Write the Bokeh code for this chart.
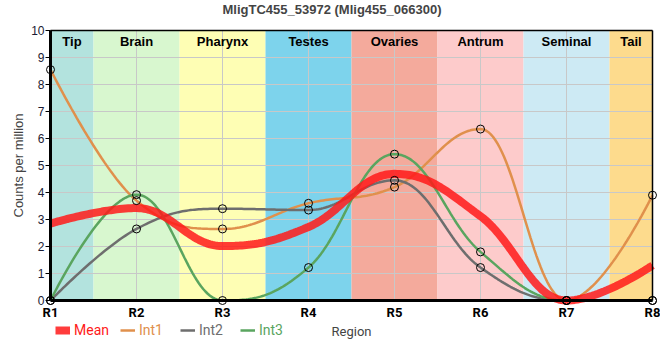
import numpy as np
from bokeh.plotting import figure
from bokeh.models import Range1d, FixedTicker, Legend, LegendItem, ColumnDataSource, LinearAxis
from bokeh.core.properties import value
from bokeh.embed import file_html
from bokeh.resources import INLINE

title = "MligTC455_53972 (Mlig455_066300)"
regions = ["R1", "R2", "R3", "R4", "R5", "R6", "R7", "R8"]
tissues = ["Tip", "Brain", "Pharynx", "Testes", "Ovaries", "Antrum", "Seminal", "Tail"]
tissue_colors = ["#b3e3de", "#d8f7cf", "#fefeb4", "#7dd3ec", "#f4aa9c", "#fdcbcb", "#cdeaf4", "#fddb8d"]
int1 = [8.55, 3.70, 2.65, 3.60, 4.20, 6.35, 0.0, 3.90]
int2 = [0.0, 2.65, 3.40, 3.35, 4.45, 1.22, 0.0, 0.0]
int3 = [0.0, 3.92, 0.0, 1.22, 5.42, 1.80, 0.0, 0.0]
mean = [(a + b + c) / 3.0 for a, b, c in zip(int1, int2, int3)]
y_ticks = list(range(0, 11))

series_names = ["Int1", "Int2", "Int3"]
series_values = [int1, int2, int3]
series_colors = ["#e0904c", "#6e6e6e", "#5aa55f"]
mean_color = "#ff1a1a"

xs = list(range(1, len(regions) + 1))


def spline(x, y, n=40):
    N = len(x)
    sm, den = 1.5, 2.5
    lc = [None] * N
    rc = [None] * N
    for i in range(1, N - 1):
        px, py = x[i], y[i]
        lx, ly = x[i - 1], y[i - 1]
        nx, ny = x[i + 1], y[i + 1]
        lcx = (sm * px + lx) / den
        lcy = (sm * py + ly) / den
        rcx = (sm * px + nx) / den
        rcy = (sm * py + ny) / den
        corr = ((rcy - lcy) * (rcx - px)) / (rcx - lcx) + py - rcy
        lcy += corr
        rcy += corr
        if lcy > ly and lcy > py:
            lcy = max(ly, py); rcy = 2 * py - lcy
        elif lcy < ly and lcy < py:
            lcy = min(ly, py); rcy = 2 * py - lcy
        if rcy > ny and rcy > py:
            rcy = max(ny, py); lcy = 2 * py - rcy
        elif rcy < ny and rcy < py:
            rcy = min(ny, py); lcy = 2 * py - rcy
        lc[i] = (lcx, lcy)
        rc[i] = (rcx, rcy)
    ox, oy = [], []
    t = np.linspace(0, 1, n)
    for i in range(N - 1):
        p0 = (x[i], y[i]); p1 = (x[i + 1], y[i + 1])
        c0 = rc[i] if rc[i] is not None else p0
        c1 = lc[i + 1] if lc[i + 1] is not None else p1
        bx = (1 - t) ** 3 * p0[0] + 3 * (1 - t) ** 2 * t * c0[0] + 3 * (1 - t) * t ** 2 * c1[0] + t ** 3 * p1[0]
        by = (1 - t) ** 3 * p0[1] + 3 * (1 - t) ** 2 * t * c0[1] + 3 * (1 - t) * t ** 2 * c1[1] + t ** 3 * p1[1]
        if i > 0:
            bx, by = bx[1:], by[1:]
        ox.extend(bx.tolist()); oy.extend(by.tolist())
    return ox, oy


# layout in pixels: the frame fills the canvas below the title; the data area
# (R1..R8, 0..10) sits inside it, with axes drawn at fixed locations
W, H = 660, 360
title_px = 18
data_left, data_right = 50, 652
data_top, data_bottom = 30, 300
ppx = (data_right - data_left) / (xs[-1] - xs[0])
ppy = (data_bottom - data_top) / (y_ticks[-1] - y_ticks[0])
x_start = xs[0] - data_left / ppx
x_end = xs[-1] + (W - data_right) / ppx
y_start = y_ticks[0] - (H - data_bottom) / ppy
y_end = y_ticks[-1] + (data_top - title_px) / ppy

p = figure(width=W, height=H, output_backend="svg", toolbar_location=None,
           x_range=Range1d(x_start, x_end), y_range=Range1d(y_start, y_end),
           min_border_left=0, min_border_right=0,
           min_border_top=title_px, min_border_bottom=0)
p.background_fill_color = "white"
p.border_fill_color = "white"
p.outline_line_color = None
p.xgrid.visible = False
p.ygrid.visible = False

# title
p.title.text = title
p.title.text_font = "Liberation Sans"
p.title.text_font_style = "bold"
p.title.text_font_size = "13px"
p.title.align = "left"
p.title.offset = 222
p.title.vertical_align = "top"
p.title.standoff = 0

# bands
lefts = [max(xs[0], v - 0.5) for v in xs]
rights = [min(xs[-1], v + 0.5) for v in xs]
band_src = ColumnDataSource(dict(left=lefts, right=rights, color=tissue_colors,
                                 name=tissues, cx=[(a + b) / 2 for a, b in zip(lefts, rights)],
                                 top=[y_ticks[-1]] * len(xs), bottom=[0] * len(xs)))
p.quad(left="left", right="right", top="top", bottom="bottom", fill_color="color",
       line_color=None, source=band_src, level="image")

# grid lines limited to the data area
p.segment(x0=xs, y0=[0] * len(xs), x1=xs, y1=[y_ticks[-1]] * len(xs),
          line_color="#c8c8c8", line_width=1, level="underlay")
p.segment(x0=[xs[0]] * len(y_ticks), y0=y_ticks, x1=[xs[-1]] * len(y_ticks), y1=y_ticks,
          line_color="#c8c8c8", line_width=1, level="underlay")

p.text(x="cx", y="top", text="name", source=band_src, text_align="center", text_baseline="top",
       y_offset=3, text_font=value("Liberation Sans"), text_font_style="bold",
       text_font_size="13px", text_color="black")

# lines
line_renderers = {}
for name, vals, col in zip(series_names, series_values, series_colors):
    sx, sy = spline(xs, vals)
    line_renderers[name] = p.line(sx, sy, line_color=col, line_width=2.5)

mx, my = spline(xs, mean)
mean_r = p.line(mx, my, line_color=mean_color, line_width=8, line_alpha=0.85)

for vals in series_values:
    p.scatter(xs, vals, size=8, fill_alpha=0, line_color="black", line_width=1)

# axes
p.xaxis.fixed_location = y_ticks[0]
p.xaxis.bounds = (xs[0], xs[-1])
p.xaxis.ticker = FixedTicker(ticks=xs)
p.xaxis.major_label_overrides = {x: r for x, r in zip(xs, regions)}
p.xaxis.axis_label = "Region"
p.xaxis.axis_label_text_font = "Roboto"
p.xaxis.axis_label_text_font_style = "normal"
p.xaxis.axis_label_text_font_size = "13px"
p.xaxis.axis_label_standoff = 1
p.xaxis.major_label_text_font = "Roboto"
p.xaxis.major_label_text_font_style = "bold"
p.xaxis.major_label_text_font_size = "13px"
p.xaxis.major_label_text_color = "black"
p.xaxis.major_label_standoff = -2
p.xaxis.major_tick_line_color = None
p.xaxis.minor_tick_line_color = None
p.xaxis.axis_line_width = 3
p.xaxis.axis_line_color = "black"

p.yaxis.fixed_location = xs[0]
p.yaxis.bounds = (y_ticks[0], y_ticks[-1])
p.yaxis.ticker = FixedTicker(ticks=y_ticks)
p.yaxis.axis_label = "Counts per million"
p.yaxis.axis_label_text_font = "Liberation Sans"
p.yaxis.axis_label_text_font_style = "normal"
p.yaxis.axis_label_text_font_size = "13px"
p.yaxis.axis_label_standoff = 2
p.yaxis.major_label_text_font = "Liberation Sans"
p.yaxis.major_label_text_font_size = "12px"
p.yaxis.major_label_text_color = "#1a1a33"
p.yaxis.major_label_standoff = 1
p.yaxis.major_tick_out = 5
p.yaxis.major_tick_in = 0
p.yaxis.major_tick_line_color = "black"
p.yaxis.minor_tick_line_color = None
p.yaxis.axis_line_width = 3
p.yaxis.axis_line_color = "black"

# frame border on top and right
top_ax = LinearAxis(ticker=FixedTicker(ticks=[]), major_tick_line_color=None, minor_tick_line_color=None,
                    axis_line_color="black", axis_line_width=1.5,
                    fixed_location=y_ticks[-1], bounds=(xs[0], xs[-1]))
p.add_layout(top_ax, "above")
right_ax = LinearAxis(ticker=FixedTicker(ticks=[]), major_tick_line_color=None, minor_tick_line_color=None,
                      axis_line_color="black", axis_line_width=1.5,
                      fixed_location=xs[-1], bounds=(y_ticks[0], y_ticks[-1]))
p.add_layout(right_ax, "right")

# legends (one per item to colour the text)
legend_specs = [("Mean", mean_r, mean_color, 55)] + [
    (n, line_renderers[n], c, off) for n, c, off in zip(series_names, series_colors, [120, 180, 240])]
for label, rend, col, xoff in legend_specs:
    lg = Legend(items=[LegendItem(label=label, renderers=[rend])], location=(xoff, 22),
                orientation="horizontal", padding=0, margin=0, spacing=0,
                glyph_width=15, glyph_height=16, label_standoff=4,
                label_text_font="Roboto", label_text_font_size="14px",
                label_text_color=col, border_line_color=None, background_fill_alpha=0)
    p.add_layout(lg, "center")

open("out.html", "w").write(file_html(p, INLINE))
